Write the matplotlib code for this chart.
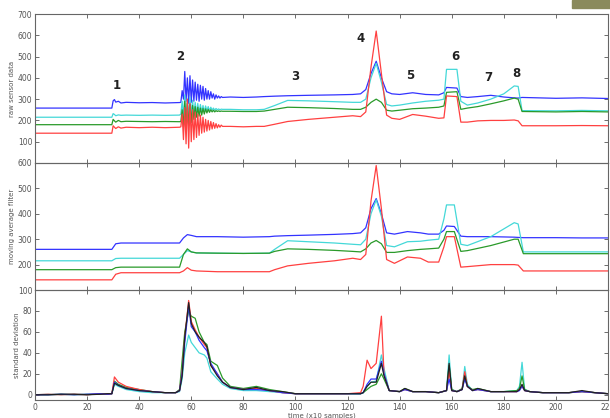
import matplotlib
matplotlib.use("Agg")
import matplotlib.pyplot as plt
from matplotlib.patches import Rectangle

# ---- raw sensor data (top) ----
osc_x = [56, 56.5, 57, 57.5, 58, 58.5, 59, 59.5, 60, 60.5, 61, 61.5, 62, 62.5, 63, 63.5,
         64, 64.5, 65, 65.5, 66, 66.5, 67, 67.5, 68, 68.5, 69, 69.5, 70, 70.5, 71, 71.5, 72]
pre_x = [0, 29.5, 30, 30.5, 31, 32, 33, 35, 40, 45, 50, 55.5]
post_x = [75, 80, 85, 88, 92, 97, 105, 115, 122, 125, 127, 129, 131, 133, 135, 137, 140,
          145, 150, 155, 157, 158, 162, 163.5, 166, 170, 175, 180, 184, 185.5, 187, 200, 210, 220]

raw_blue = ([258, 258, 292, 298, 286, 290, 282, 285, 283, 284, 282, 284] +
            [285, 340, 300, 430, 290, 400, 280, 410, 285, 390, 290, 380, 295, 370, 290, 365,
             300, 360, 295, 350, 300, 340, 300, 335, 305, 325, 300, 320, 305, 315, 305, 312, 308] +
            [310, 308, 310, 312, 314, 316, 318, 320, 322, 325, 345, 420, 478, 400, 335, 325, 322,
             330, 322, 320, 330, 355, 352, 312, 308, 312, 318, 310, 306, 305, 308, 304, 306, 303])
raw_cyan = ([215, 215, 232, 228, 222, 226, 224, 225, 224, 225, 224, 225] +
            [230, 290, 210, 320, 200, 300, 215, 310, 220, 295, 225, 285, 230, 280, 235, 275,
             240, 270, 240, 268, 245, 265, 245, 262, 248, 258, 248, 256, 250, 254, 250, 253, 252] +
            [252, 250, 250, 252, 270, 294, 292, 288, 285, 285, 300, 400, 468, 380, 275, 268, 272,
             282, 290, 295, 300, 440, 440, 290, 272, 282, 300, 325, 362, 360, 246, 245, 247, 245])
raw_green = ([180, 180, 205, 198, 192, 200, 194, 196, 195, 194, 195, 194] +
             [195, 250, 170, 290, 160, 280, 175, 275, 190, 270, 205, 265, 215, 262, 220, 258,
              225, 256, 230, 254, 235, 252, 238, 250, 240, 248, 240, 246, 242, 245, 242, 244, 243] +
             [243, 242, 242, 244, 252, 262, 260, 256, 252, 252, 262, 285, 300, 285, 248, 244, 248,
              255, 258, 262, 268, 332, 335, 252, 258, 265, 278, 292, 305, 300, 242, 240, 242, 240])
raw_red = ([140, 140, 175, 168, 162, 170, 164, 168, 166, 168, 166, 168] +
           [170, 230, 110, 260, 90, 300, 70, 280, 100, 250, 110, 240, 120, 230, 130, 225,
            140, 215, 145, 205, 150, 200, 155, 195, 160, 190, 163, 185, 165, 180, 168, 178, 172] +
           [172, 170, 172, 172, 182, 195, 205, 215, 222, 218, 240, 450, 620, 420, 225, 210, 205,
            228, 220, 210, 212, 315, 312, 192, 192, 198, 200, 200, 202, 198, 175, 175, 176, 175])
raw_x = pre_x + osc_x + post_x

# ---- moving average filter (middle) ----
avg_x = [0, 29.5, 31, 33, 55.5, 57, 58.5, 60, 62, 70, 80, 90, 92, 97, 105, 115, 122, 125, 127,
         129, 131, 133, 135, 138, 143, 148, 151, 155, 157, 158, 161, 163.5, 166, 175, 184, 185.5,
         187.5, 200, 210, 220]
avg_blue = [260, 260, 282, 285, 285, 305, 318, 315, 310, 310, 308, 310, 312, 314, 316, 319,
            322, 325, 345, 420, 460, 400, 325, 320, 330, 325, 320, 320, 335, 352, 350, 312,
            310, 310, 308, 307, 306, 306, 305, 305]
avg_cyan = [215, 215, 224, 225, 225, 240, 255, 250, 246, 245, 244, 245, 260, 294, 290, 285,
            280, 278, 300, 400, 455, 390, 275, 270, 290, 292, 296, 300, 380, 435, 435, 280,
            275, 310, 365, 360, 250, 250, 250, 250]
avg_green = [180, 180, 188, 190, 190, 240, 262, 250, 246, 245, 244, 245, 252, 262, 260, 256,
             252, 250, 262, 285, 295, 282, 248, 248, 255, 260, 262, 265, 300, 330, 330, 252,
             255, 275, 300, 300, 243, 243, 243, 243]
avg_red = [140, 140, 162, 168, 168, 175, 188, 178, 175, 172, 172, 172, 180, 195, 205, 215,
           225, 220, 240, 450, 590, 420, 220, 205, 230, 225, 210, 210, 270, 310, 310, 190,
           192, 200, 200, 198, 175, 175, 175, 175]

# ---- standard deviation (bottom) ----
std_x = [0, 5, 10, 15, 20, 25, 28, 29.5, 30.5, 32, 35, 40, 45, 50, 54, 55.5, 56.5, 57.5, 59,
         60, 61.5, 63, 65, 66, 67.5, 70, 72, 75, 80, 85, 90, 95, 100, 110, 120, 125, 126,
         127.5, 129, 131, 133, 134, 136, 140, 142, 145, 150, 155, 158, 159, 160, 162, 164,
         165, 166, 168, 170, 175, 180, 185, 186, 187, 188, 190, 195, 200, 205, 210, 215, 220]
std_blue = [0, 0, 0.5, 0, 0.5, 1, 0.5, 1, 12, 9, 6, 4, 3, 2, 2, 4, 20, 50, 85, 65, 60, 52,
            45, 42, 30, 20, 12, 7, 5, 5, 4, 2, 1, 1, 1, 1, 2, 10, 15, 15, 32, 20, 4, 3, 5, 3,
            3, 2, 4, 15, 4, 3, 5, 15, 8, 4, 5, 3, 3, 3, 4, 8, 4, 3, 2, 2, 2, 3, 2, 1]
std_cyan = [0, 0.5, 0, 0.5, 0, 1, 0.5, 1, 10, 8, 5, 3, 2, 2, 2, 3, 15, 40, 57, 50, 45, 40,
            38, 35, 22, 15, 10, 6, 4, 4, 3, 2, 1, 1, 1, 1, 2, 8, 12, 13, 38, 25, 4, 3, 5, 3,
            3, 2, 4, 38, 5, 3, 5, 27, 10, 4, 5, 3, 3, 4, 8, 31, 5, 3, 2, 2, 2, 3, 2, 1]
std_green = [0, 0, 0.5, 0, 0.5, 0.5, 1, 1, 13, 10, 7, 5, 3, 2, 2, 5, 33, 60, 80, 75, 73, 60,
             50, 48, 32, 28, 16, 8, 6, 8, 5, 3, 1, 1, 1, 1, 2, 5, 8, 10, 20, 15, 4, 3, 6, 3,
             3, 2, 4, 28, 5, 3, 6, 20, 8, 5, 6, 3, 3, 4, 6, 18, 5, 3, 2, 2, 2, 3, 2, 1]
std_red = [0, 0.5, 0, 0.5, 0, 1, 0.5, 1, 17, 12, 8, 5, 3, 2, 2, 4, 22, 55, 90, 70, 62, 55,
           48, 45, 28, 20, 12, 7, 5, 6, 4, 2, 1, 1, 1, 2, 8, 33, 25, 30, 75, 20, 4, 3, 5, 3,
           3, 2, 4, 22, 4, 3, 5, 22, 8, 4, 5, 3, 3, 3, 5, 8, 4, 3, 2, 2, 2, 3, 2, 1]
std_black = [0, 0, 0.5, 0.5, 0, 0.5, 1, 1, 11, 9, 6, 4, 3, 2, 2, 4, 18, 55, 88, 68, 60, 55,
             50, 46, 28, 18, 12, 7, 5, 7, 4, 3, 1, 1, 1, 1, 2, 8, 12, 12, 30, 18, 4, 3, 6, 3,
             3, 2, 4, 30, 4, 3, 5, 18, 8, 4, 6, 3, 3, 3, 5, 10, 4, 3, 2, 2, 2, 4, 2, 1]

# event labels on the raw panel
event_labels = ['1', '2', '3', '4', '5', '6', '7', '8']
event_x = [31.5, 55.8, 100, 125, 144, 161.5, 174, 185]
event_y = [362, 498, 405, 587, 409, 498, 400, 419]

c_blue = '#3333ff'
c_cyan = '#44d8d8'
c_green = '#2a9a2a'
c_red = '#ff4040'
gray = '#555555'

fig = plt.figure(figsize=(6.1, 4.18), dpi=100)
left, width = 35 / 610, 573 / 610
ax1 = fig.add_axes([left, 1 - 163 / 418, width, 149 / 418])
ax2 = fig.add_axes([left, 1 - 290 / 418, width, 127 / 418])
ax3 = fig.add_axes([left, 1 - 400 / 418, width, 110 / 418])

lw = 0.9
for c, y in zip([c_blue, c_cyan, c_green, c_red], [raw_blue, raw_cyan, raw_green, raw_red]):
    ax1.plot(raw_x, y, color=c, lw=lw)
for c, y in zip([c_blue, c_cyan, c_green, c_red], [avg_blue, avg_cyan, avg_green, avg_red]):
    ax2.plot(avg_x, y, color=c, lw=lw)
for c, y in zip([c_cyan, c_green, c_red, c_blue, '#222222'],
                [std_cyan, std_green, std_red, std_blue, std_black]):
    ax3.plot(std_x, y, color=c, lw=lw)

for t, x, y in zip(event_labels, event_x, event_y):
    ax1.text(x, y, t, fontsize=8.5, fontweight='bold', color='#222222', ha='center', va='center')

ax1.set_ylim(0, 700)
ax1.set_yticks([100, 200, 300, 400, 500, 600, 700])
ax2.set_ylim(100, 600)
ax2.set_yticks([100, 200, 300, 400, 500, 600])
ax3.set_ylim(-5, 100)
ax3.set_yticks([0, 20, 40, 60, 80])

for ax, lab in zip([ax1, ax2, ax3], ['raw sensor data', 'moving average filter', 'standard deviation']):
    ax.set_xlim(0, 220)
    ax.set_xticks(range(0, 221, 20))
    ax.tick_params(direction='in', top=True, right=True, labelsize=5.5, colors=gray,
                   length=3, width=0.6, pad=2)
    for s in ax.spines.values():
        s.set_color('#666666')
        s.set_linewidth(0.8)
    ax.set_ylabel(lab, fontsize=5, color=gray, labelpad=2)
    ax.patch.set_alpha(0)
ax1.tick_params(labelbottom=False)
ax2.tick_params(labelbottom=False)
ax3.set_xlabel('time (x10 samples)', fontsize=5, color=gray, labelpad=0.5)

fig.patches.append(Rectangle((572 / 610, 1 - 8 / 418), 38 / 610, 8 / 418,
                             transform=fig.transFigure, color='#8a8a5c', zorder=5))

fig.savefig('out.png', dpi=100)
